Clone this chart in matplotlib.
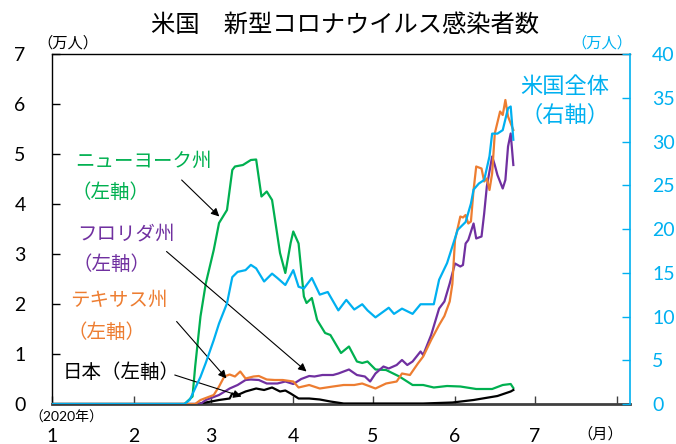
import numpy as np
import matplotlib
matplotlib.use("Agg")
import matplotlib.pyplot as plt

plt.rcParams["font.family"] = ["Lato", "Noto Sans CJK JP", "DejaVu Sans"]

# ── data (x = days since 2020-01-01, left axis in 万人) ─────────────────
ny_day = [0, 50, 53, 54, 56, 58, 61, 63, 66, 68, 69, 72, 75, 77, 79, 81, 83, 86, 88,
          90, 91, 93, 95, 96, 98, 100, 103, 105, 109, 112, 115, 117, 119, 122, 126,
          131, 136, 140, 144, 149, 154, 160, 166, 170, 173, 174]
ny_val = [0, 0, 0.15, 0.75, 1.75, 2.41, 3.08, 3.62, 3.88, 4.68, 4.75, 4.78, 4.88, 4.89,
          4.15, 4.25, 4.08, 3.02, 2.62, 3.22, 3.45, 3.21, 2.15, 2.02, 2.12, 1.68, 1.42,
          1.38, 1.02, 1.15, 0.85, 0.82, 0.85, 0.69, 0.68, 0.55, 0.38, 0.38, 0.33, 0.36,
          0.35, 0.30, 0.30, 0.38, 0.40, 0.32]

fl_day = [0, 56, 58, 63, 67, 70, 73, 75, 78, 81, 85, 88, 91, 94, 97, 99, 102, 106, 108,
          112, 115, 118, 120, 122, 125, 127, 130, 132, 134, 136, 139, 140, 143, 146, 148,
          150, 152, 154, 155, 156, 157, 159, 160, 162, 163, 164, 166, 167, 168, 170, 171,
          172, 173, 174]
fl_val = [0, 0, 0.08, 0.18, 0.31, 0.38, 0.48, 0.49, 0.48, 0.41, 0.41, 0.45, 0.40, 0.50,
          0.56, 0.55, 0.58, 0.58, 0.61, 0.69, 0.58, 0.55, 0.45, 0.61, 0.75, 0.71, 0.78,
          0.88, 0.78, 0.85, 1.05, 0.98, 1.38, 1.91, 2.05, 2.41, 2.81, 2.75, 2.78, 3.21,
          3.28, 3.61, 3.31, 3.35, 3.81, 4.35, 4.95, 4.78, 4.58, 4.31, 4.48, 5.15, 5.41, 4.78]

tx_day = [0, 54, 56, 61, 63, 65, 67, 69, 71, 73, 76, 78, 81, 84, 87, 91, 93, 97, 101,
          106, 110, 114, 117, 122, 126, 130, 132, 135, 138, 140, 143, 146, 148, 150, 151,
          152, 154, 155, 156, 157, 158, 159, 160, 162, 163, 164, 165, 166, 167, 169, 170,
          171, 172, 174]
tx_val = [0, 0, 0.08, 0.18, 0.35, 0.55, 0.59, 0.55, 0.65, 0.51, 0.55, 0.56, 0.49, 0.48,
          0.48, 0.45, 0.33, 0.38, 0.31, 0.35, 0.38, 0.38, 0.41, 0.31, 0.41, 0.45, 0.61,
          0.58, 0.81, 0.95, 1.28, 1.58, 1.76, 2.05, 2.40, 3.28, 3.75, 3.73, 3.78, 3.61,
          3.65, 4.28, 4.75, 4.71, 4.45, 4.51, 4.28, 4.61, 5.41, 5.85, 5.78, 6.08, 5.75, 5.48]

jp_day = [0, 55, 63, 67, 68, 70, 73, 77, 80, 83, 86, 88, 90, 93, 97, 101, 105, 110,
          140, 151, 159, 168, 173, 174]
jp_val = [0, 0, 0.08, 0.11, 0.21, 0.18, 0.25, 0.31, 0.28, 0.33, 0.25, 0.27, 0.21, 0.11,
          0.11, 0.09, 0.05, 0.01, 0.01, 0.03, 0.08, 0.16, 0.25, 0.28]

# US total, right axis (万人)
us_day = [0, 50, 52, 56, 58, 61, 63, 66, 68, 70, 73, 75, 77, 80, 83, 85, 88, 91, 93, 95,
          98, 101, 104, 108, 111, 114, 117, 119, 122, 127, 129, 132, 136, 139, 144, 146,
          149, 151, 153, 156, 158, 159, 161, 163, 165, 166, 168, 170, 172, 173, 174]
us_val = [0, 0, 0.5, 3.1, 4.7, 7.3, 9.2, 11.5, 14.5, 15.1, 15.3, 15.9, 15.5, 14.0, 14.9,
          14.4, 13.6, 15.3, 13.4, 13.2, 14.4, 12.5, 12.8, 10.7, 11.9, 10.8, 11.4, 10.7,
          9.9, 11.0, 10.3, 10.9, 10.3, 11.4, 11.4, 14.2, 16.1, 18.0, 19.9, 20.8, 22.9,
          24.5, 25.2, 25.6, 28.3, 30.9, 30.9, 31.3, 33.8, 34.0, 30.2]

month_start = [0, 31, 60, 91, 121, 152, 182, 213]
month_label = ["1", "2", "3", "4", "5", "6", "7", ""]
left_ticks = [0, 1, 2, 3, 4, 5, 6, 7]
right_ticks = [0, 5, 10, 15, 20, 25, 30, 35, 40]

GREEN, PURPLE, ORANGE, BLUE = "#00B050", "#7030A0", "#ED7D31", "#00B0F0"

fig = plt.figure(figsize=(6.76, 4.44), dpi=100)
ax = fig.add_axes([52 / 676, 40 / 444, 578 / 676, 350 / 444])
ax2 = ax.twinx()

lw = 1.6
ax.plot(ny_day, ny_val, color=GREEN, lw=lw, zorder=3)
ax.plot(jp_day, jp_val, color="black", lw=lw, zorder=3)
ax.plot(fl_day, fl_val, color=PURPLE, lw=lw, zorder=4)
ax.plot(tx_day, tx_val, color=ORANGE, lw=lw, zorder=5)
ax2.plot(us_day, us_val, color=BLUE, lw=lw)

ax.set_xlim(0, 218)
ax.set_ylim(0, 7)
ax2.set_ylim(0, 40)

ax.set_xticks(month_start)
ax.set_xticklabels(month_label)
ax.set_yticks(left_ticks)
ax2.set_yticks(right_ticks)

ax.tick_params(axis="x", direction="in", length=6, width=1, color="#404040",
               pad=17, labelsize=14)
ax.tick_params(axis="y", direction="in", length=6, width=1, pad=19, labelsize=14)
ax2.tick_params(axis="y", direction="in", length=6, width=1, color=BLUE,
                labelcolor=BLUE, pad=16, labelsize=14)

for s in ("left", "top"):
    ax.spines[s].set_color("black")
    ax.spines[s].set_linewidth(1)
ax.spines["bottom"].set_color("#404040")
ax.spines["bottom"].set_linewidth(2)
ax.spines["right"].set_visible(False)
for s in ("left", "top", "bottom"):
    ax2.spines[s].set_visible(False)
ax2.spines["right"].set_color(BLUE)
ax2.spines["right"].set_linewidth(1.2)

# ── labels ─────────────────────────────────────────────────────────────
fig.text(345 / 676, 1 - 24 / 444, "米国　新型コロナウイルス感染者数", ha="center",
         va="center", fontsize=17.5)
fig.text(68 / 676, 1 - 43 / 444, "（万人）", ha="center", va="center", fontsize=11)
fig.text(602 / 676, 1 - 43 / 444, "（万人）", ha="center", va="center", fontsize=11,
         color=BLUE)
fig.text(66 / 676, 1 - 417 / 444, "（2020年）", ha="center", va="center", fontsize=10)
fig.text(600 / 676, 1 - 434 / 444, "（月）", ha="center", va="center", fontsize=11)

ax.text(8.7, 4.85, "ニューヨーク州", color=GREEN, fontsize=14, va="center")
ax.text(7.5, 4.25, "（左軸）", color=GREEN, fontsize=14, va="center")
ax.text(9.4, 3.41, "フロリダ州", color=PURPLE, fontsize=14, va="center")
ax.text(7.9, 2.81, "（左軸）", color=PURPLE, fontsize=14, va="center")
ax.text(6.8, 2.08, "テキサス州", color=ORANGE, fontsize=14, va="center")
ax.text(6.0, 1.45, "（左軸）", color=ORANGE, fontsize=14, va="center")
ax.text(4.1, 0.65, "日本（左軸）", color="black", fontsize=14, va="center")
ax.text(193.3, 6.34, "米国全体", color=BLUE, fontsize=16, ha="center", va="center")
ax.text(193.3, 5.78, "（右軸）", color=BLUE, fontsize=16, ha="center", va="center")

arrow = dict(arrowstyle="-|>", color="black", lw=0.8, mutation_scale=12,
             shrinkA=0, shrinkB=0)
ax.annotate("", xy=(63.1, 3.75), xytext=(48.9, 4.48), arrowprops=arrow, zorder=6)
ax.annotate("", xy=(96.0, 0.65), xytext=(43.2, 3.05), arrowprops=arrow, zorder=6)
ax.annotate("", xy=(65.8, 0.51), xytext=(47.0, 1.65), arrowprops=arrow, zorder=6)
ax.annotate("", xy=(71.5, 0.15), xytext=(46.3, 0.58), arrowprops=arrow, zorder=6)

fig.savefig("out.png", dpi=100)
